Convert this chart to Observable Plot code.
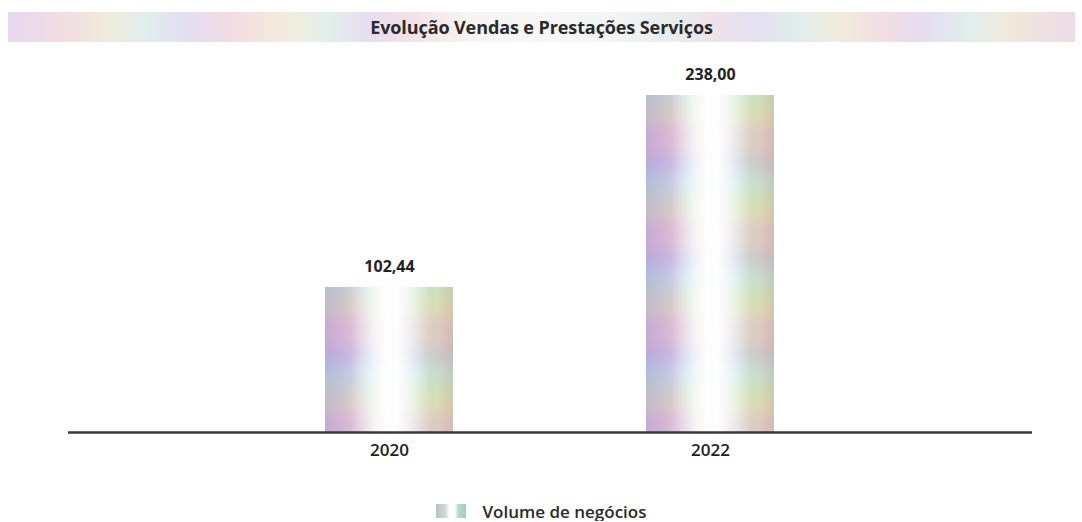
<!DOCTYPE html>
<html>
<head>
<meta charset="utf-8">
<script src="https://cdn.jsdelivr.net/npm/d3@7"></script>
<script src="https://cdn.jsdelivr.net/npm/@observablehq/plot@0.6"></script>
<style>
  html, body { margin: 0; padding: 0; background: #fff; width: 1082px; overflow: hidden; }
  body { font-family: "Open Sans", sans-serif; color: #222; }
  #title {
    margin: 12px 7px 8px 8px; height: 30px; line-height: 30px; text-align: center;
    font-size: 18px; font-weight: 700; color: #2a2a2a; letter-spacing: -0.1px;
    background: linear-gradient(90deg,
      #e6d8ee 0%, #f1dde4 5%, #f0eadb 9%, #e0eeec 13%, #e5ddf2 17%, #f3dde3 21%,
      #f2ecdc 26%, #e2efeb 30%, #e8ddf1 34%, #f2e3e5 38%, #f7f4f0 43%, #f8f7f8 50%,
      #f2f4f5 57%, #e8eeeb 62%, #efe2e9 66%, #e5e1f2 70%, #e0eeeb 74%, #f1ebdc 78%,
      #f2dee3 82%, #e6ddf1 86%, #e0eeec 90%, #f1e9da 94%, #eddbe9 100%);
  }
  #legend { margin-top: 21px; height: 20px; display: flex; justify-content: center; align-items: center; font-size: 17px; font-weight: 600; color: #2a2a2a; }
  #legend .sw { width: 30px; height: 14px; margin-right: 17px;
    background: linear-gradient(90deg, #b9c2c4 0%, #cfd6d8 30%, #ffffff 45%, #ffffff 62%, #b5dccb 75%, #9fcfb6 100%); }
</style>
</head>
<body>
<div id="title">Evolução Vendas e Prestações Serviços</div>
<div id="chart"></div>
<div id="legend"><span class="sw"></span><span>Volume de negócios</span></div>
<script>
const years = ["2020", "2022"];
const values = [102.44, 238.00];
const seriesName = "Volume de negócios";

const data = years.map((year, i) => ({year, value: values[i]}));
const fmt = v => v.toFixed(2).replace(".", ",");

const chart = Plot.plot({
  width: 1082,
  height: 430,
  marginTop: 28,
  marginBottom: 48,
  marginLeft: 68,
  marginRight: 50,
  style: {fontFamily: "Open Sans", fontSize: "17px", fontWeight: 600, color: "#222", background: "white"},
  x: {domain: years, paddingInner: 0.6, paddingOuter: 0.8, label: null, tickSize: 0, tickPadding: 11},
  y: {domain: [0, 250], axis: null},
  marks: [
    Plot.barY(data, {x: "year", y: "value", fill: "url(#hgrad)"}),
    Plot.barY(data, {x: "year", y: "value", fill: "url(#vstripe)", fillOpacity: 0.4}),
    Plot.barY(data, {x: "year", y: "value", fill: "url(#hl)"}),
    Plot.ruleY([0], {stroke: "#3a3a3a", strokeWidth: 2.5}),
    Plot.text(data, {x: "year", y: "value", text: d => fmt(d.value), dy: -21, fontSize: 16, fontWeight: 700, fill: "#222"})
  ]
});

const svg = d3.select(chart);
const defs = svg.insert("defs", ":first-child");

const hg = defs.append("linearGradient").attr("id", "hgrad").attr("x1", 0).attr("x2", 1).attr("y1", 0).attr("y2", 0);
[[0, "#b3a8d8"], [0.12, "#c6b3dc"], [0.25, "#dccbe8"], [0.36, "#d9eaf0"], [0.46, "#fbfbfb"], [0.54, "#ffffff"],
 [0.64, "#dcefec"], [0.76, "#d5e6cc"], [0.88, "#dadbbc"], [1, "#c9c1ac"]]
  .forEach(([o, c]) => hg.append("stop").attr("offset", o).attr("stop-color", c));

const vs = defs.append("linearGradient").attr("id", "vstripe").attr("gradientUnits", "userSpaceOnUse")
  .attr("x1", 0).attr("x2", 0).attr("y1", 0).attr("y2", 96).attr("spreadMethod", "repeat");
[[0, "#e2b0c8"], [0.18, "#beaee0"], [0.36, "#b2dbe6"], [0.52, "#c0e2b8"], [0.7, "#e2d4a8"], [0.86, "#e6b2c2"], [1, "#e2b0c8"]]
  .forEach(([o, c]) => vs.append("stop").attr("offset", o).attr("stop-color", c));

const hl = defs.append("linearGradient").attr("id", "hl").attr("x1", 0).attr("x2", 1).attr("y1", 0).attr("y2", 0);
[[0, 0], [0.2, 0], [0.36, 0.6], [0.48, 0.95], [0.56, 0.95], [0.68, 0.55], [0.82, 0], [1, 0]]
  .forEach(([o, a]) => hl.append("stop").attr("offset", o).attr("stop-color", "#ffffff").attr("stop-opacity", a));

document.getElementById("chart").appendChild(chart);
</script>
</body>
</html>
